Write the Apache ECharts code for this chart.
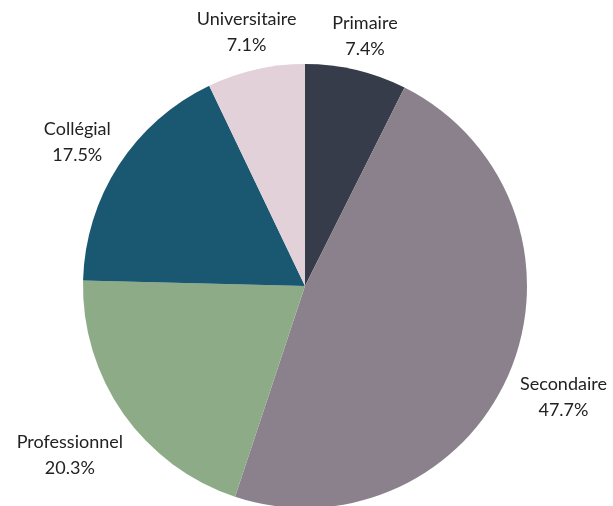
<!DOCTYPE html>
<html>
<head>
<meta charset="utf-8">
<script src="https://cdn.jsdelivr.net/npm/echarts@6/dist/echarts.min.js"></script>
<style>
  html, body { margin: 0; padding: 0; background: #ffffff; }
  #chart { width: 613px; height: 506px; }
</style>
</head>
<body>
<div id="chart"></div>
<script>
// Répartition par niveau de scolarité (%)
const categories = ['Primaire', 'Secondaire', 'Professionnel', 'Collégial', 'Universitaire'];
const shares = [7.4, 47.7, 20.3, 17.5, 7.1];
const palette = ['#373c4a', '#8a818d', '#8eab88', '#1a5771', '#e3d1d9'];

const CX = 305, CY = 286, R = 222, GAP = 9;
const total = shares.reduce((a, b) => a + b, 0);

// mid-angle of each slice, measured clockwise from 12 o'clock
const midAngles = [];
let acc = 0;
shares.forEach(v => {
  midAngles.push(((acc + v / 2) / total) * 2 * Math.PI);
  acc += v;
});

const chart = echarts.init(document.getElementById('chart'), null, { renderer: 'canvas' });
chart.setOption({
  animation: false,
  color: palette,
  series: [{
    type: 'pie',
    center: [CX, CY],
    radius: [0, R],
    startAngle: 90,
    clockwise: true,
    avoidLabelOverlap: false,
    data: categories.map((c, i) => ({ name: c, value: shares[i] })),
    label: {
      show: true,
      position: 'outside',
      formatter: p => '{t|' + p.name + '}\n{t|' + p.value.toFixed(1) + '%}',
      rich: {
        t: {
          fontFamily: 'Lato',
          fontSize: 18,
          lineHeight: 26,
          color: '#222222',
          align: 'center'
        }
      },
      fontFamily: 'Lato',
      fontSize: 18,
      lineHeight: 26,
      color: '#222222'
    },
    labelLine: { show: false },
    emphasis: { disabled: true },
    // place each label centred on the slice's bisector, its box just clear of the rim
    labelLayout: function (params) {
      const a = midAngles[params.dataIndex];
      const s = Math.sin(a), c = Math.cos(a);
      const hw = params.labelRect.width / 2;
      const hh = params.labelRect.height / 2 - 3.5;
      const d = R + GAP + hw * Math.abs(s) + hh * Math.abs(c);
      return {
        x: CX + d * s,
        y: CY - d * c + 4,
        align: 'center',
        verticalAlign: 'middle'
      };
    }
  }]
});
</script>
</body>
</html>
